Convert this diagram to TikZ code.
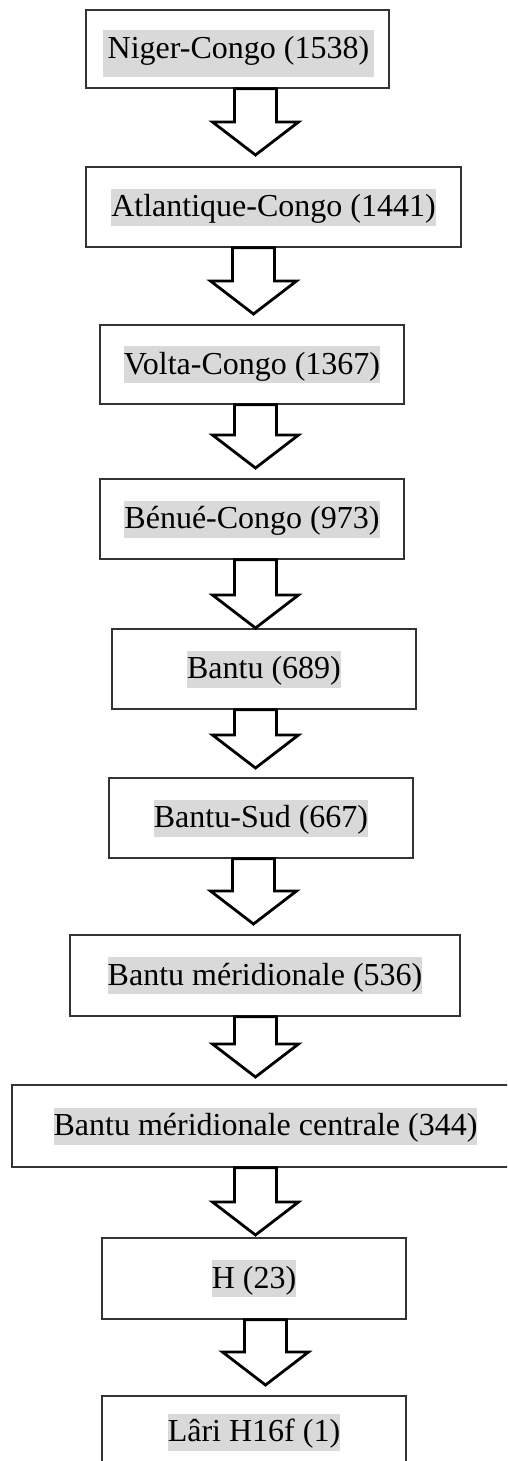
\documentclass[tikz,border=0pt]{standalone}
\usepackage{fontspec}
\setmainfont{Liberation Serif}
\usepackage{tikz}
\usetikzlibrary{positioning}
\usepackage{xcolor}
\definecolor{surligne}{RGB}{217,217,217}
\tikzset{
  famille/.style={draw=black!80, line width=1.6pt, fill=white, inner sep=0pt},
  nom/.style={fill=surligne, inner xsep=0pt, inner ysep=0pt, text height=28pt, text depth=9pt, font=\fontsize{32}{38}\selectfont},
  bloc/.style={draw=black, line width=2.8pt, fill=white, line join=miter}
}
% #1 = boite du dessus, #2 = pointe de la fleche
\newcommand{\fleche}[2]{%
  \coordinate (#2s) at (#2 |- #1.south);
  \draw[bloc] ([xshift=-21pt]#2s) -- ([xshift=-21pt,yshift=33pt]#2) -- ([xshift=-43pt,yshift=33pt]#2) -- (#2)
     -- ([xshift=43pt,yshift=33pt]#2) -- ([xshift=21pt,yshift=33pt]#2) -- ([xshift=21pt]#2s) -- cycle;}

\begin{document}
\begin{tikzpicture}[x=1pt, y=-1pt]
\useasboundingbox (0,0) rectangle (507,1461);
\clip (0,0) rectangle (507,1461);

\node [famille, minimum width=303, minimum height=78] (b1) at (237.5,49) {};
\node [famille, minimum width=375, minimum height=80] (b2) at (273.5,207) {};
\node [famille, minimum width=304, minimum height=79] (b3) at (252,364.5) {};
\node [famille, minimum width=304, minimum height=80] (b4) at (252,519) {};
\node [famille, minimum width=304, minimum height=80] (b5) at (264,669) {};
\node [famille, minimum width=304, minimum height=80] (b6) at (261,818) {};
\node [famille, minimum width=390, minimum height=81] (b7) at (265,975.5) {};
\node [famille, minimum width=507, minimum height=82] (b8) at (265.5,1126) {};
\node [famille, minimum width=304, minimum height=81] (b9) at (254,1278.5) {};
\node [famille, minimum width=304, minimum height=80] (b10) at (254,1436) {};

\node [nom, inner xsep=5pt, text height=29pt, text depth=18pt] (t1) at ([xshift=1pt,yshift=-4.5pt]b1.center) {Niger-Congo (1538)};
\node [nom] (t2) at (b2) {Atlantique-Congo (1441)};
\node [nom] (t3) at (b3) {Volta-Congo (1367)};
\node [nom] (t4) at (b4) {Bénué-Congo (973)};
\node [nom] (t5) at (b5) {Bantu (689)};
\node [nom] (t6) at (b6) {Bantu-Sud (667)};
\node [nom] (t7) at (b7) {Bantu méridionale (536)};
\node [nom] (t8) at (b8) {Bantu méridionale centrale (344)};
\node [nom] (t9) at (b9) {H (23)};
\node [nom] (t10) at ([yshift=4pt]b10.center) {Lâri H16f (1)};

\coordinate (a1) at (255.5,155);
\coordinate (a2) at (253.5,314);
\coordinate (a3) at (255.5,468);
\coordinate (a4) at (255.5,628);
\coordinate (a5) at (255.5,768);
\coordinate (a6) at (253.5,924);
\coordinate (a7) at (255.5,1077);
\coordinate (a8) at (255.5,1235);
\coordinate (a9) at (265.5,1385);

\fleche{b1}{a1}
\fleche{b2}{a2}
\fleche{b3}{a3}
\fleche{b4}{a4}
\fleche{b5}{a5}
\fleche{b6}{a6}
\fleche{b7}{a7}
\fleche{b8}{a8}
\fleche{b9}{a9}
\end{tikzpicture}
\end{document}
